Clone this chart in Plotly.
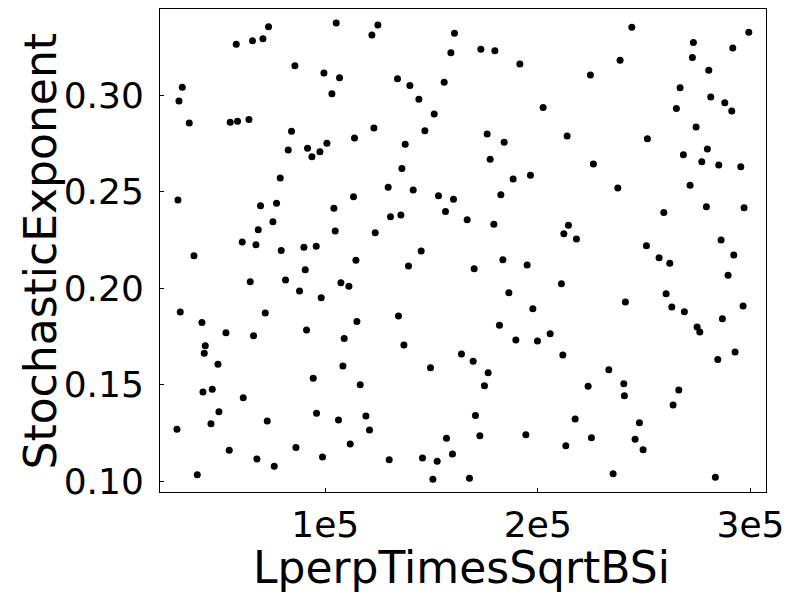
import plotly.graph_objects as go

# Data
lperp_times_sqrt_bsi = [
    32770, 31217, 36060, 58156, 65820, 70709, 73342, 85754, 55336, 58768,
    64127, 84155, 82604, 91677, 93746, 105170, 124775, 121954, 160788, 159095,
    99388, 106722, 103149, 133990, 139820, 155945, 144051, 151244, 146872, 122895,
    113774, 100798, 97507, 137610, 136059, 173200, 179782, 191535, 238690, 224727,
    202489, 176161, 184154, 213773, 177572, 226137, 244191, 299197, 273151, 291675,
    272681, 280391, 266898, 281332, 287914, 291205, 265159, 274421, 251525, 279733,
    268450, 277101, 285093, 295436, 78842, 30747, 69581, 77103, 75410, 68499,
    60977, 67418, 79313, 89985, 95768, 38269, 90596, 81334, 64738, 87916,
    31828, 42031, 71790, 129618, 141371, 113304, 153266, 160318, 104089, 130699,
    135588, 156557, 166759, 104700, 123506, 145132, 114432, 139161, 107380, 111141,
    98118, 134460, 114902, 188385, 196519, 182602, 237609, 179311, 214384, 212221,
    218145, 183543, 170050, 194967, 211093, 186363, 197647, 241182, 181944, 271600,
    259235, 279263, 296987, 251055, 257026, 262056, 286174, 292145, 289465, 260317,
    262996, 268920, 296517, 286785, 274891, 53314, 66290, 91207, 43582, 43112,
    49553, 94357, 46873, 42501, 61447, 50023, 46262, 95909, 30277, 72731,
    54865, 67888, 76022, 86224, 39821, 108931, 136999, 164079, 108320, 149505,
    116454, 106252, 119133, 120826, 157027, 111752, 98729, 130088, 145743, 152654,
    159848, 150633, 167840, 189654, 199810, 205780, 211751, 169580, 176632, 174892,
    233378, 223646, 240430, 240712, 170661, 172729, 194356, 217534, 225197, 213161,
    235399, 276160, 292756, 284623, 266287, 263607, 247764, 245742, 249503, 283494,
]
stochastic_exponent = [
    0.3041, 0.2969, 0.2855, 0.3263, 0.3281, 0.3292, 0.3354, 0.3152, 0.2859, 0.2864,
    0.2874, 0.2812, 0.2715, 0.2724, 0.2680, 0.3373, 0.3363, 0.3311, 0.3320, 0.3219,
    0.3114, 0.3090, 0.3007, 0.3084, 0.3050, 0.3066, 0.2978, 0.2902, 0.2815, 0.2829,
    0.2777, 0.2750, 0.2706, 0.2745, 0.2620, 0.3238, 0.3230, 0.3161, 0.3181, 0.3104,
    0.2936, 0.2798, 0.2755, 0.2788, 0.2667, 0.2643, 0.3351, 0.3326, 0.3273, 0.3244,
    0.3195, 0.3128, 0.3038, 0.2990, 0.2960, 0.2917, 0.2931, 0.2834, 0.2774, 0.2720,
    0.2691, 0.2654, 0.2637, 0.2628, 0.2570, 0.2456, 0.2426, 0.2440, 0.2344, 0.2302,
    0.2238, 0.2224, 0.2195, 0.2211, 0.2216, 0.2167, 0.2095, 0.2041, 0.2033, 0.1984,
    0.1876, 0.1822, 0.1870, 0.2522, 0.2508, 0.2473, 0.2478, 0.2460, 0.2413, 0.2369,
    0.2378, 0.2397, 0.2354, 0.2295, 0.2287, 0.2192, 0.2144, 0.2114, 0.2027, 0.2009,
    0.1950, 0.1855, 0.1827, 0.2565, 0.2584, 0.2483, 0.2518, 0.2330, 0.2325, 0.2281,
    0.2254, 0.2147, 0.2100, 0.2119, 0.2022, 0.1976, 0.1893, 0.1927, 0.1807, 0.2532,
    0.2392, 0.2421, 0.2416, 0.2219, 0.2157, 0.2128, 0.2249, 0.2171, 0.2066, 0.1970,
    0.1902, 0.1877, 0.1907, 0.1841, 0.1798, 0.1768, 0.1753, 0.1782, 0.1701, 0.1662,
    0.1605, 0.1532, 0.1475, 0.1461, 0.1432, 0.1359, 0.1297, 0.1351, 0.1268, 0.1311,
    0.1159, 0.1114, 0.1076, 0.1173, 0.1033, 0.1739, 0.1705, 0.1658, 0.1596, 0.1587,
    0.1499, 0.1316, 0.1337, 0.1264, 0.1221, 0.1192, 0.1124, 0.1110, 0.1119, 0.1102,
    0.1140, 0.1009, 0.1014, 0.1731, 0.1725, 0.1763, 0.1653, 0.1620, 0.1561, 0.1494,
    0.1577, 0.1491, 0.1504, 0.1442, 0.1340, 0.1235, 0.1240, 0.1321, 0.1224, 0.1183,
    0.1038, 0.1772, 0.1668, 0.1629, 0.1472, 0.1394, 0.1302, 0.1216, 0.1162, 0.1019,
]

x_tickvals = [100000, 200000, 300000]
x_ticktext = ["1e5", "2e5", "3e5"]
y_tickvals = [0.10, 0.15, 0.20, 0.25, 0.30]
y_ticktext = ["0.10", "0.15", "0.20", "0.25", "0.30"]
x_title = "LperpTimesSqrtBSi"
y_title = "StochasticExponent"

FONT = "DejaVu Sans"

fig = go.Figure(
    go.Scatter(
        x=lperp_times_sqrt_bsi,
        y=stochastic_exponent,
        mode="markers",
        marker=dict(color="black", size=7, line=dict(width=0)),
        showlegend=False,
    )
)

axis_common = dict(
    showgrid=False,
    zeroline=False,
    showline=True,
    linecolor="black",
    linewidth=1,
    mirror=True,
    ticks="inside",
    ticklen=4,
    tickwidth=1,
    tickcolor="black",
    tickfont=dict(family=FONT, size=36, color="black"),
    automargin=False,
)

fig.update_xaxes(
    range=[22300, 307300],
    tickvals=x_tickvals,
    ticktext=x_ticktext,
    ticklabelstandoff=1,
    **axis_common,
)
fig.update_yaxes(
    range=[0.0943, 0.3446],
    tickvals=y_tickvals,
    ticktext=y_ticktext,
    ticklabelstandoff=8,
    **axis_common,
)

fig.update_layout(
    width=788,
    height=594,
    margin=dict(l=160, r=22, t=9, b=102),
    paper_bgcolor="white",
    plot_bgcolor="white",
    font=dict(family=FONT, color="black"),
    annotations=[
        dict(
            text=x_title, xref="paper", yref="paper",
            x=0.4975, y=-0.157, xanchor="center", yanchor="middle",
            showarrow=False, font=dict(family=FONT, size=44, color="black"),
        ),
        dict(
            text=y_title, xref="paper", yref="paper",
            x=-0.1964, y=0.5, xanchor="center", yanchor="middle", textangle=-90,
            showarrow=False, font=dict(family=FONT, size=44, color="black"),
        ),
    ],
)

fig.write_html("out.html")
